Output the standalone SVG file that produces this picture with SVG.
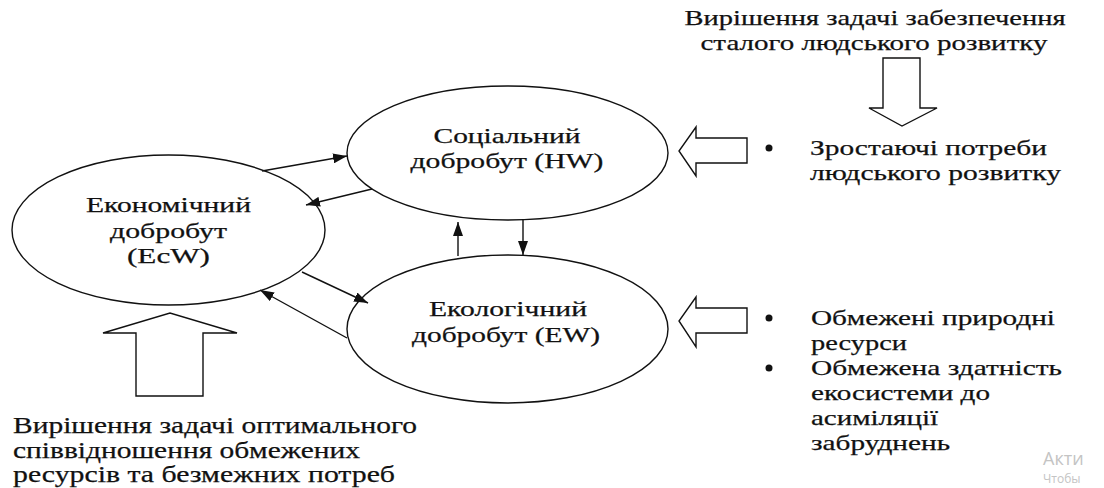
<svg xmlns="http://www.w3.org/2000/svg" width="1104" height="488" viewBox="0 0 1104 488">
<defs>
<style>
.t{font-family:"Liberation Serif","Times New Roman","DejaVu Serif",serif;fill:#111;stroke:#111;stroke-width:0.25;}
.c{text-anchor:middle;}
.n{fill:#fff;stroke:#111;stroke-width:1.4;}
.ln{stroke:#111;stroke-width:1.4;fill:none;marker-end:url(#ah);}
.blk{fill:#fff;stroke:#111;stroke-width:1.4;stroke-linejoin:miter;}
.wm{font-family:"Open Sans","Noto Sans",sans-serif;fill:#c4c4c4;}
</style>
<marker id="ah" markerUnits="userSpaceOnUse" markerWidth="14" markerHeight="10" refX="14" refY="5" orient="auto">
<path d="M0,0 L14,5 L0,10 z" fill="#111"/>
</marker>
</defs>
<rect width="1104" height="488" fill="#fff"/>

<g id="top-text">
<text class="t c" x="875" y="25" font-size="22" textLength="381" lengthAdjust="spacingAndGlyphs">Вирішення задачі забезпечення</text>
<text class="t c" x="874" y="50" font-size="22" textLength="347" lengthAdjust="spacingAndGlyphs">сталого людського розвитку</text>
</g>

<g id="arrow-down">
<polygon class="blk" points="883,58 920,58 920,108 937,108 902,126 869,108 883,108"/>
</g>

<g id="node-hw">
<ellipse class="n" cx="507.5" cy="153" rx="160.5" ry="67"/>
<text class="t c" x="507" y="143" font-size="22" textLength="147" lengthAdjust="spacingAndGlyphs">Соціальний</text>
<text class="t c" x="507" y="168" font-size="22" textLength="193" lengthAdjust="spacingAndGlyphs">добробут (HW)</text>
</g>

<g id="node-ecw">
<ellipse class="n" cx="168.5" cy="230" rx="156.5" ry="75"/>
<text class="t c" x="168.5" y="212" font-size="22" textLength="165" lengthAdjust="spacingAndGlyphs">Економічний</text>
<text class="t c" x="168.5" y="238" font-size="22" textLength="117" lengthAdjust="spacingAndGlyphs">добробут</text>
<text class="t c" x="168.5" y="263" font-size="22" textLength="83" lengthAdjust="spacingAndGlyphs">(EcW)</text>
</g>

<g id="node-ew">
<ellipse class="n" cx="507.5" cy="329" rx="160.5" ry="74"/>
<text class="t c" x="508" y="316" font-size="22" textLength="158" lengthAdjust="spacingAndGlyphs">Екологічний</text>
<text class="t c" x="506" y="342" font-size="22" textLength="188" lengthAdjust="spacingAndGlyphs">добробут (EW)</text>
</g>

<g id="connectors">
<line class="ln" x1="262" y1="171" x2="347" y2="156"/>
<line class="ln" x1="372" y1="189" x2="306" y2="205"/>
<line class="ln" x1="302" y1="272" x2="368" y2="303"/>
<line class="ln" x1="347" y1="338" x2="260" y2="290"/>
<line class="ln" x1="458" y1="256" x2="458" y2="222"/>
<line class="ln" x1="523" y1="220" x2="523" y2="255"/>
</g>

<g id="arrow-left-hw">
<polygon class="blk" points="747,138 747,163 696,163 696,176 679,151 696,127 696,138"/>
</g>
<g id="arrow-left-ew">
<polygon class="blk" points="747,308 747,333 696,333 696,347 679,321 696,297 696,308"/>
</g>
<g id="arrow-up">
<polygon class="blk" points="136,396 136,333 103,333 170,313 237,333 203,333 203,396"/>
</g>

<g id="bullets-hw">
<circle cx="769" cy="148" r="3.5" fill="#111"/>
<text class="t" x="810" y="155" font-size="22" textLength="237" lengthAdjust="spacingAndGlyphs">Зростаючі потреби</text>
<text class="t" x="810" y="180" font-size="22" textLength="251" lengthAdjust="spacingAndGlyphs">людського розвитку</text>
</g>

<g id="bullets-ew">
<circle cx="769" cy="318" r="3.5" fill="#111"/>
<circle cx="769" cy="368" r="3.5" fill="#111"/>
<text class="t" x="811" y="325" font-size="22" textLength="244" lengthAdjust="spacingAndGlyphs">Обмежені природні</text>
<text class="t" x="811" y="350" font-size="22" textLength="96" lengthAdjust="spacingAndGlyphs">ресурси</text>
<text class="t" x="811" y="375" font-size="22" textLength="251" lengthAdjust="spacingAndGlyphs">Обмежена здатність</text>
<text class="t" x="811" y="400" font-size="22" textLength="179" lengthAdjust="spacingAndGlyphs">екосистеми до</text>
<text class="t" x="811" y="425" font-size="22" textLength="127" lengthAdjust="spacingAndGlyphs">асиміляції</text>
<text class="t" x="811" y="450" font-size="22" textLength="139" lengthAdjust="spacingAndGlyphs">забруднень</text>
</g>

<g id="bottom-text">
<text class="t" x="13" y="433" font-size="23" textLength="404" lengthAdjust="spacingAndGlyphs">Вирішення задачі оптимального</text>
<text class="t" x="13" y="458" font-size="23" textLength="347" lengthAdjust="spacingAndGlyphs">співвідношення обмежених</text>
<text class="t" x="13" y="482" font-size="23" textLength="382" lengthAdjust="spacingAndGlyphs">ресурсів та безмежних потреб</text>
</g>

<g id="watermark">
<text class="wm" x="1043" y="465" font-size="18">Акти</text>
<text class="wm" x="1043" y="483" font-size="12">Чтобы</text>
</g>
</svg>
